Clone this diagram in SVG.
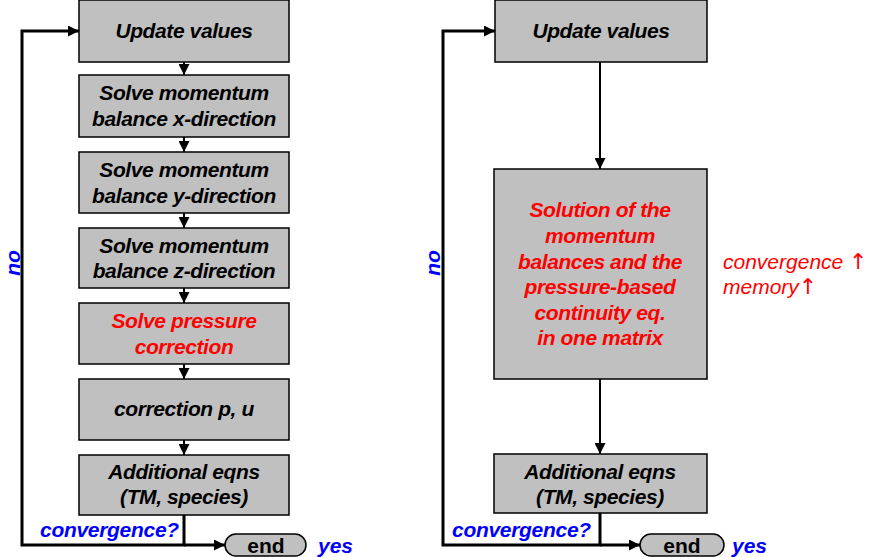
<svg xmlns="http://www.w3.org/2000/svg" width="870" height="557" viewBox="0 0 870 557">
<defs>
<marker id="ah" viewBox="0 0 10 10" refX="10" refY="5" markerWidth="11" markerHeight="11" markerUnits="userSpaceOnUse" orient="auto"><path d="M0,0 L10,5 L0,10 Z" fill="#000"/></marker>
</defs>
<style>
.box{fill:#C0C0C0;stroke:#000;stroke-width:1.5}
.pill{fill:#C0C0C0;stroke:#000;stroke-width:1.5}
.t{font-family:"Liberation Sans",Arial,sans-serif;font-size:21px;font-weight:bold;font-style:italic;text-anchor:middle;dominant-baseline:central;letter-spacing:-0.4px;fill:#000}
.r{fill:#FF0000}
.b{font-family:"Liberation Sans",Arial,sans-serif;font-size:21px;font-weight:bold;font-style:italic;fill:#0000FF;dominant-baseline:central}
.e{font-family:"Liberation Sans",Arial,sans-serif;font-size:21px;font-weight:bold;fill:#000;text-anchor:middle;dominant-baseline:central}
.n{font-family:"Liberation Sans",Arial,sans-serif;font-size:21px;font-style:italic;fill:#FF0000;dominant-baseline:central}
.ar{font-family:"DejaVu Sans",sans-serif;font-style:normal;font-size:22px}
.c{fill:none;stroke:#000;stroke-width:3}
.cs{fill:none;stroke:#000;stroke-width:2}
</style>
<g id="connectors">
<line class="cs" x1="184" y1="62" x2="184" y2="75" marker-end="url(#ah)"/>
<line class="cs" x1="184" y1="137" x2="184" y2="152" marker-end="url(#ah)"/>
<line class="cs" x1="184" y1="213" x2="184" y2="228" marker-end="url(#ah)"/>
<line class="cs" x1="184" y1="288" x2="184" y2="303" marker-end="url(#ah)"/>
<line class="cs" x1="184" y1="364" x2="184" y2="379" marker-end="url(#ah)"/>
<line class="cs" x1="184" y1="440" x2="184" y2="455" marker-end="url(#ah)"/>
<polyline class="c" points="184,515 184,545 22,545 22,31 79,31" marker-end="url(#ah)"/>
<polyline class="c" points="184,545 225,545" marker-end="url(#ah)"/>
<line class="cs" x1="600" y1="62" x2="600" y2="169" marker-end="url(#ah)"/>
<line class="cs" x1="600" y1="379" x2="600" y2="454" marker-end="url(#ah)"/>
<polyline class="c" points="600,513 600,545 443,545 443,31 495,31" marker-end="url(#ah)"/>
<polyline class="c" points="600,545 640,545" marker-end="url(#ah)"/>
</g>
<g id="l-update"><rect class="box" x="79" y="0" width="210" height="62"/><text class="t" x="184" y="30">Update values</text></g>
<g id="l-momx"><rect class="box" x="79" y="75" width="210" height="62"/><text class="t" x="184" y="92">Solve momentum</text><text class="t" x="184" y="118">balance x-direction</text></g>
<g id="l-momy"><rect class="box" x="79" y="152" width="210" height="61"/><text class="t" x="184" y="169">Solve momentum</text><text class="t" x="184" y="195">balance y-direction</text></g>
<g id="l-momz"><rect class="box" x="79" y="228" width="210" height="60"/><text class="t" x="184" y="245">Solve momentum</text><text class="t" x="184" y="270">balance z-direction</text></g>
<g id="l-press"><rect class="box" x="79" y="303" width="210" height="61"/><text class="t r" x="184" y="320">Solve pressure</text><text class="t r" x="184" y="346">correction</text></g>
<g id="l-corr"><rect class="box" x="79" y="379" width="210" height="61"/><text class="t" x="184" y="408">correction p, u</text></g>
<g id="l-add"><rect class="box" x="79" y="455" width="210" height="60"/><text class="t" x="184" y="471">Additional eqns</text><text class="t" x="184" y="496">(TM, species)</text></g>
<g id="l-end"><rect class="pill" x="225" y="534" width="81" height="22" rx="11"/><text class="e" x="266" y="545">end</text></g>
<g id="l-labels">
<text class="b" x="40" y="529" letter-spacing="-0.3">convergence?</text>
<text class="b" x="318" y="545">yes</text>
<text class="b" transform="translate(12,263) rotate(-90)" text-anchor="middle">no</text>
</g>
<g id="r-update"><rect class="box" x="495" y="0" width="212" height="62"/><text class="t" x="601" y="30">Update values</text></g>
<g id="r-solve"><rect class="box" x="494" y="169" width="213" height="210"/>
<text class="t r" x="600" y="209">Solution of the</text>
<text class="t r" x="600" y="235">momentum</text>
<text class="t r" x="600" y="261">balances and the</text>
<text class="t r" x="600" y="286">pressure-based</text>
<text class="t r" x="600" y="312">continuity eq.</text>
<text class="t r" x="600" y="337"> in one matrix</text>
</g>
<g id="r-add"><rect class="box" x="494" y="454" width="213" height="59"/><text class="t" x="600" y="471">Additional eqns</text><text class="t" x="600" y="496">(TM, species)</text></g>
<g id="r-end"><rect class="pill" x="640" y="534" width="84" height="22" rx="11"/><text class="e" x="682" y="545">end</text></g>
<g id="r-labels">
<text class="b" x="452" y="529" letter-spacing="-0.3">convergence?</text>
<text class="b" x="732" y="545">yes</text>
<text class="b" transform="translate(432,263) rotate(-90)" text-anchor="middle">no</text>
<text class="n" x="723" y="261">convergence <tspan class="ar">↑</tspan></text>
<text class="n" x="723" y="286">memory<tspan class="ar">↑</tspan></text>
</g>
</svg>
